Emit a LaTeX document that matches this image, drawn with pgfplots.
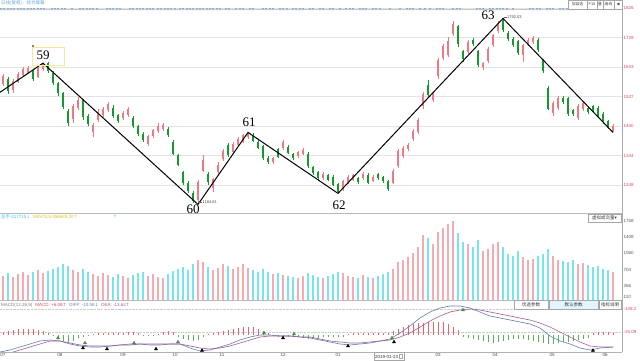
\documentclass[border=0pt]{standalone}
\usepackage{pgfplots}
\pgfplotsset{compat=1.18}
\usepackage{pgfplotstable}
\usepackage{fontspec}
\setmainfont{Liberation Sans}
\newfontfamily\cjk{Noto Sans CJK SC}
\newfontfamily\lser{Liberation Serif}
\newfontfamily\dv{DejaVu Sans}
\newcommand\tinyf{\fontsize{4.5}{5}\selectfont}
\newcommand\wavef{\lser\fontsize{13}{13}\selectfont}
\definecolor{upc}{RGB}{236,122,132}
\definecolor{dnc}{RGB}{24,150,48}
\definecolor{upv}{RGB}{246,170,178}
\definecolor{dnv}{RGB}{120,228,236}
\definecolor{macr}{RGB}{228,100,110}
\definecolor{macg}{RGB}{90,175,90}
\definecolor{difc}{RGB}{100,130,175}
\definecolor{deac}{RGB}{165,95,150}
\definecolor{pricered}{RGB}{215,80,90}
\definecolor{dotblue}{RGB}{60,145,205}
\definecolor{volcyan}{RGB}{60,200,220}
\definecolor{volyel}{RGB}{215,195,30}
\definecolor{boxyel}{RGB}{245,232,150}

\pgfplotstableread{
x o h l c v
3 1577 1612 1570 1603 560
13 1560 1595 1550 1587 540
18 1585 1618 1580 1610 600
23 1606 1632 1600 1626 650
28 1615 1638 1610 1631 580
38 1600 1636 1596 1630 700
43 1626 1646 1622 1642 620
73 1465 1512 1450 1505 700
78 1500 1535 1492 1525 650
93 1420 1452 1405 1445 600
98 1460 1495 1455 1488 560
103 1478 1502 1470 1496 620
108 1492 1520 1488 1512 580
123 1468 1490 1462 1484 560
128 1476 1502 1470 1496 520
148 1382 1412 1375 1408 560
153 1408 1432 1402 1428 600
158 1424 1450 1418 1442 540
163 1430 1452 1425 1444 520
198 1200 1265 1185 1258 900
203 1295 1345 1290 1330 860
213 1240 1272 1225 1268 700
218 1290 1322 1285 1315 740
223 1332 1365 1328 1358 820
233 1355 1388 1350 1382 720
238 1378 1405 1372 1398 760
243 1390 1415 1385 1410 820
248 1405 1420 1400 1416 740
273 1322 1340 1318 1336 600
283 1368 1395 1362 1388 580
298 1342 1360 1338 1355 520
303 1348 1368 1345 1362 560
323 1270 1290 1266 1284 520
343 1234 1266 1228 1260 620
348 1254 1280 1250 1274 560
353 1266 1285 1262 1280 540
363 1270 1290 1266 1284 580
373 1262 1282 1258 1276 520
393 1255 1300 1250 1295 720
398 1312 1365 1305 1358 860
403 1342 1375 1338 1368 920
408 1365 1385 1360 1378 980
413 1398 1430 1392 1424 1060
418 1420 1468 1415 1460 1200
423 1505 1552 1498 1545 1450
433 1525 1552 1518 1545 1250
438 1603 1662 1595 1655 1520
443 1662 1710 1655 1702 1600
448 1672 1730 1665 1718 1700
453 1740 1785 1735 1775 1760
468 1682 1722 1675 1715 1250
483 1632 1650 1625 1645 1100
488 1652 1698 1645 1692 1150
493 1705 1742 1700 1737 1250
498 1750 1782 1745 1776 1300
523 1672 1710 1650 1705 980
528 1708 1728 1702 1721 900
533 1714 1735 1710 1728 940
553 1483 1522 1475 1515 1000
558 1499 1540 1492 1532 920
578 1466 1512 1460 1505 820
583 1496 1522 1490 1515 840
613 1426 1448 1420 1440 640
}\upT

\pgfplotstableread{
x o h l c v
8 1593 1600 1545 1555 620
33 1620 1625 1588 1594 640
48 1645 1650 1615 1620 680
53 1615 1620 1575 1580 720
58 1582 1585 1540 1548 760
63 1548 1552 1495 1502 820
68 1490 1498 1440 1450 780
83 1525 1530 1462 1470 720
88 1475 1480 1440 1448 640
113 1500 1508 1468 1472 540
118 1476 1480 1450 1456 600
133 1468 1475 1435 1440 580
138 1440 1445 1408 1414 620
143 1414 1420 1388 1394 640
168 1432 1438 1405 1410 600
173 1390 1395 1345 1350 680
178 1345 1350 1310 1315 720
183 1290 1295 1248 1255 760
188 1255 1260 1222 1228 700
193 1222 1228 1190 1196 820
208 1285 1290 1250 1258 760
228 1378 1385 1340 1345 780
253 1412 1418 1388 1392 700
258 1390 1395 1365 1370 660
263 1375 1380 1330 1335 720
268 1336 1342 1318 1322 640
278 1365 1370 1335 1340 620
288 1372 1378 1348 1352 560
293 1348 1352 1330 1335 540
308 1350 1356 1305 1310 620
313 1306 1312 1280 1286 580
318 1290 1295 1265 1270 540
328 1280 1285 1262 1266 560
333 1276 1280 1245 1250 600
338 1250 1255 1221 1224 640
358 1270 1276 1252 1257 520
368 1282 1288 1252 1256 540
378 1284 1288 1266 1270 560
383 1274 1278 1255 1260 600
388 1260 1264 1228 1234 640
428 1575 1590 1535 1542 1380
458 1766 1772 1700 1707 1500
463 1685 1690 1650 1659 1300
473 1721 1728 1702 1708 1200
478 1685 1690 1632 1640 1350
503 1786 1792 1748 1754 1200
508 1744 1750 1718 1724 1050
513 1724 1730 1698 1704 1000
518 1718 1722 1672 1678 1100
538 1720 1728 1682 1688 1000
543 1655 1660 1615 1622 1050
548 1564 1570 1492 1498 1150
563 1532 1538 1512 1518 880
568 1531 1535 1475 1479 860
573 1492 1498 1472 1479 900
588 1499 1505 1480 1486 800
593 1505 1510 1488 1492 760
598 1499 1505 1468 1472 780
603 1479 1485 1448 1453 720
608 1456 1462 1430 1436 700
}\dnT

\pgfplotstableread{
x v
3 10
8 14
13 18
18 22
23 24
28 24
33 22
38 20
43 14
48 8
93 4
98 6
103 8
108 8
113 6
118 6
123 8
128 10
133 10
138 6
158 4
163 10
168 14
173 12
208 4
213 8
218 12
223 16
228 20
233 24
238 28
243 30
248 32
253 30
258 24
263 16
268 8
348 4
353 6
358 6
363 6
368 8
373 6
378 6
383 6
388 8
393 16
398 24
403 32
408 38
413 42
418 46
423 48
428 50
433 50
438 52
443 50
448 44
453 32
458 20
593 8
598 10
603 12
608 10
613 8
}\hpos

\pgfplotstableread{
x v
53 -4
58 -16
63 -24
68 -28
73 -24
78 -14
83 -8
88 -4
143 -4
148 -4
153 -4
178 -8
183 -16
188 -22
193 -24
198 -20
203 -8
273 -4
278 -8
283 -10
288 -8
293 -8
298 -10
303 -12
308 -16
313 -14
318 -12
323 -10
328 -8
333 -8
338 -8
343 -6
463 -8
468 -12
473 -16
478 -20
483 -26
488 -30
493 -32
498 -28
503 -24
508 -20
513 -18
518 -16
523 -16
528 -20
533 -24
538 -28
543 -32
548 -36
553 -36
558 -32
563 -30
568 -28
573 -24
578 -20
583 -16
588 -12
}\hneg

\pgfplotstableread{
x dif dea
0 -68 -76
10 -60 -72
20 -48 -60
30 -36 -48
40 -24 -36
50 -20 -24
60 -24 -24
70 -36 -32
80 -44 -40
90 -48 -44
100 -48 -44
110 -44 -44
120 -40 -40
130 -36 -40
140 -36 -36
150 -40 -36
160 -40 -36
170 -36 -36
180 -36 -36
190 -52 -44
200 -64 -52
210 -60 -56
220 -48 -52
230 -36 -44
240 -20 -32
250 -8 -20
260 0 -8
270 0 -4
280 -4 -4
290 -4 -4
300 -8 -8
310 -12 -8
320 -20 -16
330 -28 -24
340 -36 -28
350 -40 -32
360 -36 -32
370 -32 -28
380 -24 -24
390 -16 -20
400 8 -8
410 36 8
420 68 32
430 92 56
440 108 76
450 116 92
460 116 100
470 108 104
480 92 100
490 76 92
500 68 84
510 60 76
520 52 68
530 44 60
540 28 48
550 -4 32
560 -24 12
570 -36 -8
580 -52 -28
590 -60 -44
600 -52 -48
613 -48 -48
}\macdL

\begin{document}
\begin{tikzpicture}[x=1pt,y=1pt]
\fill[white] (0,0) rectangle (640,361);
\path[use as bounding box] (0,0) rectangle (640,361);

\pgfplotsset{panel/.style={scale only axis, width=622pt, xmin=0, xmax=622,
  axis line style={draw=none}, tick style={draw=none}, yticklabel pos=right,
  xtick=\empty, yticklabel style={font=\tinyf, inner sep=1.5pt}},
  cdl/.style 2 args={draw=none, forget plot, error bars/.cd, y dir=both, y explicit,
  error mark=none, error bar style={draw=#1, solid, line width=#2}}}

% ---------------- price panel
\begin{axis}[panel, at={(0pt,353pt)}, anchor=north west, height=205pt,
  ymin=1157, ymax=1826,
  ytick={1248,1344,1440,1537,1633,1729,1826},
  yticklabels={1248,1344,1440,1537,1633,1729,1826},
  yticklabel style={text=pricered},
  ymajorgrids, grid style={gray!22, line width=0.5pt}]
\addplot[cdl={upc}{0.6pt}] table[x=x, y expr={(\thisrow{h}+\thisrow{l})/2}, y error expr={(\thisrow{h}-\thisrow{l})/2}] {\upT};
\addplot[cdl={upc}{2.4pt}] table[x=x, y expr={(\thisrow{o}+\thisrow{c})/2}, y error expr={abs(\thisrow{c}-\thisrow{o})/2}] {\upT};
\addplot[cdl={dnc}{0.6pt}] table[x=x, y expr={(\thisrow{h}+\thisrow{l})/2}, y error expr={(\thisrow{h}-\thisrow{l})/2}] {\dnT};
\addplot[cdl={dnc}{2.4pt}] table[x=x, y expr={(\thisrow{o}+\thisrow{c})/2}, y error expr={abs(\thisrow{c}-\thisrow{o})/2}] {\dnT};
\addplot[black, line width=1pt] coordinates {(0,1551) (43,1646) (198,1185) (248,1420) (338,1221) (503,1792) (613,1420)};
\addplot[only marks, mark=*, mark size=0.9pt, dotblue] coordinates {
(1,1822) (4,1822) (8,1822) (11,1822) (14,1822) (18,1822) (21,1822) (24,1822) (28,1822) (31,1822) (34,1822) (38,1822) (41,1822) (44,1822)
(52,1822) (55,1822) (58,1822) (62,1822) (65,1822) (72,1822) (80,1822) (83,1822) (87,1822) (90,1822) (93,1822) (97,1822)
(107,1822) (110,1822) (113,1822) (117,1822) (120,1822) (130,1822) (133,1822) (137,1822) (140,1822) (143,1822) (147,1822) (150,1822) (153,1822)
(158,1822) (161,1822) (165,1822) (168,1822) (171,1822) (175,1822) (180,1822) (183,1822) (187,1822) (190,1822) (193,1822) (197,1822) (200,1822) (203,1822) (207,1822)
(210,1822) (213,1822) (217,1822) (220,1822) (226,1822) (229,1822) (236,1822) (240,1822) (243,1822) (250,1822) (253,1822)
(263,1822) (266,1822) (270,1822) (273,1822) (280,1822) (283,1822) (287,1822) (293,1822) (296,1822) (300,1822) (303,1822) (310,1822) (313,1822)
(320,1822) (323,1822) (330,1822) (333,1822) (340,1822) (346,1822) (350,1822) (353,1822) (360,1822) (363,1822) (366,1822) (373,1822) (376,1822) (380,1822)
(390,1822) (400,1822) (407,1822) (410,1822) (413,1822) (420,1822) (425,1822) (430,1822) (437,1822) (440,1822) (443,1822) (453,1822) (457,1822) (460,1822)
(477,1822) (480,1822) (483,1822) (490,1822) (493,1822) (497,1822) (500,1822) (503,1822) (507,1822) (513,1822)
(530,1822) (533,1822) (537,1822) (540,1822) (547,1822) (550,1822) (553,1822) (560,1822) (563,1822) (567,1822) (570,1822) (573,1822) (587,1822) (603,1822)};
\end{axis}

% ---------------- volume panel
\begin{axis}[panel, at={(0pt,147pt)}, anchor=north west, height=86pt,
  ymin=43, ymax=1908,
  ytick={110,356,704,1060,1408,1758},
  yticklabels={110,356,704,1060,1408,1758},
  yticklabel style={text=black!65}]
\addplot[cdl={upv}{2.4pt}] table[x=x, y expr={\thisrow{v}/2}, y error expr={\thisrow{v}/2}] {\upT};
\addplot[cdl={dnv}{2.4pt}] table[x=x, y expr={\thisrow{v}/2}, y error expr={\thisrow{v}/2}] {\dnT};
\end{axis}

% ---------------- MACD panel
\begin{axis}[panel, at={(0pt,58pt)}, anchor=north west, height=49pt,
  ymin=-68, ymax=128,
  ytick={104,12}, yticklabels={-108.2,-25.09},
  yticklabel style={text=pricered},
  ymajorgrids, grid style={gray!40, densely dotted, line width=0.4pt},
  xtick={3,60,123,175,222,283,338,438,495,552,605},
  xticklabels={07,08,09,10,11,12,01,03,04,05,06},
  xticklabel style={font=\tinyf, text=black!70, inner sep=1pt, yshift=-0.5pt}]
\addplot[cdl={macr}{0.9pt}] table[x=x, y expr={\thisrow{v}/2}, y error expr={\thisrow{v}/2}] {\hpos};
\addplot[cdl={macg}{0.9pt}] table[x=x, y expr={\thisrow{v}/2}, y error expr={-\thisrow{v}/2}] {\hneg};
\addplot[difc, line width=0.6pt] table[x=x, y=dif] {\macdL};
\addplot[deac, line width=0.6pt] table[x=x, y=dea] {\macdL};
\addplot[only marks, mark=triangle*, mark size=1.8pt, color=macg!80!black] coordinates {(58,-12) (85,-32) (134,-32) (178,-28) (264,8) (294,4) (392,-12) (463,100)};
\addplot[only marks, mark=triangle*, mark size=1.8pt, color=black] coordinates {(83,-52) (107,-56) (156,-56) (202,-62) (283,-12) (348,-44) (394,-28) (593,-62)};
\end{axis}

% ---------------- frame lines
\draw[gray!45, line width=0.5pt] (0,352) -- (622,352);
\draw[gray!55, line width=1pt] (0,{361-213.5}) -- (622,{361-213.5});
\draw[gray!55, line width=0.6pt] (0,{361-300.5}) -- (622,{361-300.5});
\draw[gray!60, line width=0.6pt] (0,9) -- (622,9);
\draw[gray!65, line width=0.8pt] (622,361) -- (622,9);

% ---------------- header texts
\node[anchor=west, inner sep=0, text=dotblue!80, font=\tinyf] at (1,{361-3.5}) {\cjk 日线(复权)：综合屏幕};
\foreach \a/\b/\t in {568/587/{\cjk 加自选}, 587/597/F10, 597/603/{\cjk 叠}, 603/614/{\cjk 画线}, 614/622/{\dv ◀}}{
  \draw[gray!70, line width=0.4pt, fill=white] (\a,352) rectangle (\b,361);
  \node[font=\fontsize{3.8}{4}\selectfont, text=black!75, inner sep=0] at ({(\a+\b)/2},356.5) {\t};
}
\node[anchor=west, inner sep=0, font=\tinyf] at (1,{361-217}) {\textcolor{volcyan}{{\cjk 总手}:417715{\dv ↓}}\hspace{3pt}\textcolor{volyel}{MAVOL5:496849.20{\dv ↑}}};
\node[inner sep=0, font=\tinyf, text=volcyan] at (115,{361-217}) {\dv ↑};
\draw[gray!70, line width=0.4pt, fill=white] (588,{361-214}) rectangle (621,{361-222});
\node[inner sep=0, font=\tinyf, text=black!80] at (604.5,{361-218}) {{\cjk 虚拟成交量}{\dv ▾}};
\node[anchor=west, inner sep=0, font=\tinyf] at (1,{361-305}) {\textcolor{gray}{MACD(12,26,9)}\hspace{3pt}\textcolor{pricered}{MACD: +6.08{\dv ↑}}\hspace{3pt}\textcolor{difc}{DIFF: -10.58{\dv ↓}}\hspace{3pt}\textcolor{deac}{DEA: -13.62{\dv ↑}}};
\foreach \a/\b/\t/\c in {514/548/优选参数/white, 549/598/默认参数/cyan!12, 599/621/指标说明/white}{
  \draw[gray!70, line width=0.4pt, fill=\c] (\a,{361-300}) rectangle (\b,{361-309.5});
  \node[font=\tinyf, text=black!80, inner sep=0] at ({(\a+\b)/2},{361-304.8}) {\cjk \t};
}
\draw[gray!70, line width=0.4pt, fill=white] (374,{361-352.5}) rectangle (404,{361-360.5});
\node[font=\tinyf, text=black!80, inner sep=0, anchor=west] at (375,{361-356.5}) {2019-01-23};
\draw[gray!70, line width=0.3pt] (399,{361-354.5}) rectangle (402.5,{361-358.5});

% ---------------- wave labels
\draw[boxyel, line width=0.6pt] (32,{361-47}) rectangle (64,{361-65});
\fill[black] (33,{361-46}) circle (0.8);
\node[font=\wavef, inner sep=0] at (43,{361-55.5}) {59};
\node[font=\wavef, inner sep=0] at (193,{361-209}) {60};
\node[font=\wavef, inner sep=0] at (249,{361-122}) {61};
\node[font=\wavef, inner sep=0] at (339,{361-205}) {62};
\node[font=\wavef, inner sep=0] at (488,{361-15.5}) {63};
\draw[black!60, line width=0.3pt] (199,{361-202}) -- (202,{361-202});
\node[anchor=west, inner sep=0, font=\fontsize{4}{4.5}\selectfont, text=black!70] at (202.5,{361-202}) {1184.81};
\draw[black!60, line width=0.3pt] (503.5,{361-17.5}) -- (506.5,{361-17.5});
\node[anchor=west, inner sep=0, font=\fontsize{4}{4.5}\selectfont, text=black!70] at (507,{361-17.5}) {1792.03};
\end{tikzpicture}
\end{document}
